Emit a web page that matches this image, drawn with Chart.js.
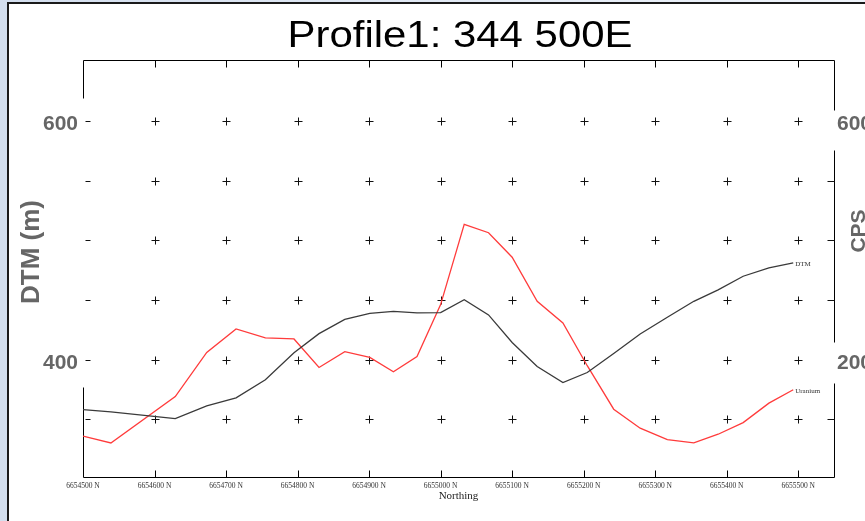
<!DOCTYPE html>
<html>
<head>
<meta charset="utf-8">
<title>Profile1: 344 500E</title>
<script src="https://cdn.jsdelivr.net/npm/chart.js@4.4.1/dist/chart.umd.min.js"></script>
<style>
  html, body { margin: 0; padding: 0; width: 865px; height: 521px; overflow: hidden; }
  body { background: linear-gradient(to right, #d3deee, #eef3fa); }
  #frame { position: absolute; left: 7px; top: 2px; width: 900px; height: 560px; background: #fff; border: 2px solid #1a1a1a; }
  #profile { position: absolute; left: 0; top: 0; }
</style>
</head>
<body>
<div id="frame"></div>
<canvas id="profile" width="865" height="521"></canvas>
<script>
// ---- profile data ----
const TITLE = 'Profile1: 344 500E';

const northing = [6654500, 6654539, 6654629, 6654673, 6654714, 6654755, 6654795, 6654830, 6654866,
                  6654901, 6654934, 6654967, 6655000, 6655033, 6655067, 6655100, 6655135, 6655171,
                  6655205, 6655242, 6655279, 6655317, 6655354, 6655388, 6655423, 6655459, 6655493];

// DTM in metres (left axis)
const dtm = [358.2, 356.3, 350.7, 361.4, 368.1, 383.2, 405.9, 421.9, 433.9,
             438.9, 440.6, 439.3, 439.5, 450.4, 437.6, 414.5, 394.4, 380.9,
             389.3, 405.3, 421.6, 435.6, 449.0, 458.6, 470.0, 477.1, 481.3];

// Uranium in CPS (right axis)
const uranium = [71.8, 60.5, 138.3, 212.3, 251.6, 236.5, 234.8, 187.0, 213.4,
                 203.9, 179.8, 205.5, 292.4, 426.9, 412.9, 371.9, 298.0, 261.7,
                 190.0, 117.1, 85.2, 66.0, 60.5, 75.1, 94.6, 127.2, 149.6];

const northingTicks = [6654500, 6654600, 6654700, 6654800, 6654900, 6655000,
                       6655100, 6655200, 6655300, 6655400, 6655500];
const dtmTicks = [350, 400, 450, 500, 550, 600];
const dtmLabelled = [400, 600];
const cpsTicks = [100, 200, 300, 400, 500, 600];
const cpsLabelled = [200, 600];

const SANS = '"Liberation Sans", Arial, sans-serif';
const SERIF = '"Liberation Serif", "Times New Roman", serif';

// frame, tick marks and the "+" grid
const framePlugin = {
    id: 'frame',
    beforeDatasetsDraw(chart) {
        const { ctx, chartArea: a, scales: { x, yL, yR } } = chart;
        const L = Math.round(a.left) + 0.5, R = Math.round(a.right) + 0.5;
        const T = Math.round(a.top) + 0.5, B = Math.round(a.bottom) + 0.5;
        ctx.save();
        ctx.strokeStyle = '#000';
        ctx.lineWidth = 1;
        ctx.beginPath();
        ctx.moveTo(L, T); ctx.lineTo(R, T);
        ctx.moveTo(L, B); ctx.lineTo(R, B);
        // left edge is only partly drawn in the original
        ctx.moveTo(L, T); ctx.lineTo(L, T + 38);
        ctx.moveTo(L, B - 90); ctx.lineTo(L, B);
        // right edge breaks round the labels
        ctx.moveTo(R, T); ctx.lineTo(R, T + 50);
        ctx.moveTo(R, T + 90); ctx.lineTo(R, T + 282);
        ctx.moveTo(R, T + 323); ctx.lineTo(R, B);
        northingTicks.slice(1).forEach(v => {
            const px = Math.round(x.getPixelForValue(v)) + 0.5;
            ctx.moveTo(px, T); ctx.lineTo(px, T + 7);
            ctx.moveTo(px, B); ctx.lineTo(px, B - 7);
        });
        ctx.stroke();

        ctx.strokeStyle = '#111';
        ctx.beginPath();
        dtmTicks.forEach(d => {
            const py = Math.round(yL.getPixelForValue(d)) + 0.5;
            ctx.moveTo(L + 2, py); ctx.lineTo(L + 7, py);
            northingTicks.slice(1).forEach(v => {
                const px = Math.round(x.getPixelForValue(v)) + 0.5;
                ctx.moveTo(px - 4, py); ctx.lineTo(px + 4, py);
                ctx.moveTo(px, py - 4); ctx.lineTo(px, py + 4);
            });
        });
        cpsTicks.filter(c => !cpsLabelled.includes(c)).forEach(c => {
            const py = Math.round(yR.getPixelForValue(c)) + 0.5;
            ctx.moveTo(R - 7, py); ctx.lineTo(R, py);
        });
        ctx.stroke();
        ctx.restore();
    }
};

// title, y axis titles and the end-of-line names
const textPlugin = {
    id: 'texts',
    afterDraw(chart) {
        const { ctx } = chart;
        ctx.save();
        ctx.fillStyle = '#000';
        ctx.font = '36px ' + SANS;
        const w = ctx.measureText(TITLE).width;
        ctx.translate(460, 47);
        ctx.scale(345 / w, 1);
        ctx.textAlign = 'center';
        ctx.textBaseline = 'alphabetic';
        ctx.fillText(TITLE, 0, 0);
        ctx.restore();

        ctx.save();
        ctx.fillStyle = '#666';
        ctx.font = 'bold 26px ' + SANS;
        ctx.textAlign = 'center';
        ctx.translate(39, 252);
        ctx.rotate(-Math.PI / 2);
        ctx.fillText('DTM (m)', 0, 0);
        ctx.restore();

        ctx.save();
        ctx.fillStyle = '#666';
        ctx.font = 'bold 21px ' + SANS;
        ctx.textAlign = 'center';
        ctx.translate(865, 231);
        ctx.rotate(-Math.PI / 2);
        ctx.fillText('CPS', 0, 0);
        ctx.restore();

        ctx.save();
        ctx.fillStyle = '#333';
        ctx.font = '7px ' + SERIF;
        ctx.textBaseline = 'middle';
        chart.data.datasets.forEach((ds, i) => {
            const pts = chart.getDatasetMeta(i).data;
            const last = pts[pts.length - 1];
            ctx.fillText(ds.label, last.x + 2, last.y + 1.5);
        });
        ctx.restore();
    }
};

new Chart(document.getElementById('profile'), {
    type: 'line',
    data: {
        datasets: [{
            label: 'DTM',
            data: northing.map((n, i) => ({ x: n, y: dtm[i] })),
            yAxisID: 'yL',
            borderColor: '#3a3a3a',
            borderWidth: 1.3,
            pointRadius: 0,
            tension: 0
        }, {
            label: 'Uranium',
            data: northing.map((n, i) => ({ x: n, y: uranium[i] })),
            yAxisID: 'yR',
            borderColor: '#ff3b3b',
            borderWidth: 1.3,
            pointRadius: 0,
            tension: 0
        }]
    },
    options: {
        responsive: false,
        animation: false,
        devicePixelRatio: 1,
        layout: { padding: { top: 60, left: 0, right: 0, bottom: 0 } },
        plugins: { legend: { display: false }, tooltip: { enabled: false }, title: { display: false } },
        scales: {
            x: {
                type: 'linear',
                position: 'bottom',
                min: 6654500,
                max: 6655550,
                afterBuildTicks: s => { s.ticks = northingTicks.map(v => ({ value: v })); },
                afterFit: s => { s.height = 44; },
                grid: { display: false, drawTicks: false },
                border: { display: false },
                ticks: {
                    autoSkip: false,
                    maxRotation: 0,
                    padding: 5,
                    color: '#333',
                    font: { family: SERIF, size: 7.5 },
                    callback: v => v + ' N'
                },
                title: {
                    display: true,
                    text: 'Northing',
                    color: '#222',
                    font: { family: SERIF, size: 11 },
                    padding: { top: 0, bottom: 18 }
                }
            },
            yL: {
                type: 'linear',
                position: 'left',
                min: 301.7,
                max: 651.3,
                afterBuildTicks: s => { s.ticks = dtmTicks.map(v => ({ value: v })); },
                afterFit: s => { s.width = 83; },
                grid: { display: false, drawTicks: false },
                border: { display: false },
                ticks: {
                    padding: 5,
                    labelOffset: 3,
                    color: '#666',
                    font: { family: SANS, size: 21, weight: 'bold' },
                    callback: v => dtmLabelled.includes(v) ? String(v) : ''
                }
            },
            yR: {
                type: 'linear',
                position: 'right',
                min: 3.4,
                max: 702.5,
                afterBuildTicks: s => { s.ticks = cpsTicks.map(v => ({ value: v })); },
                afterFit: s => { s.width = 31; },
                grid: { display: false, drawTicks: false },
                border: { display: false },
                ticks: {
                    padding: 3,
                    labelOffset: 3,
                    color: '#666',
                    font: { family: SANS, size: 21, weight: 'bold' },
                    callback: v => cpsLabelled.includes(v) ? String(v) : ''
                }
            }
        }
    },
    plugins: [framePlugin, textPlugin]
});
</script>
</body>
</html>
